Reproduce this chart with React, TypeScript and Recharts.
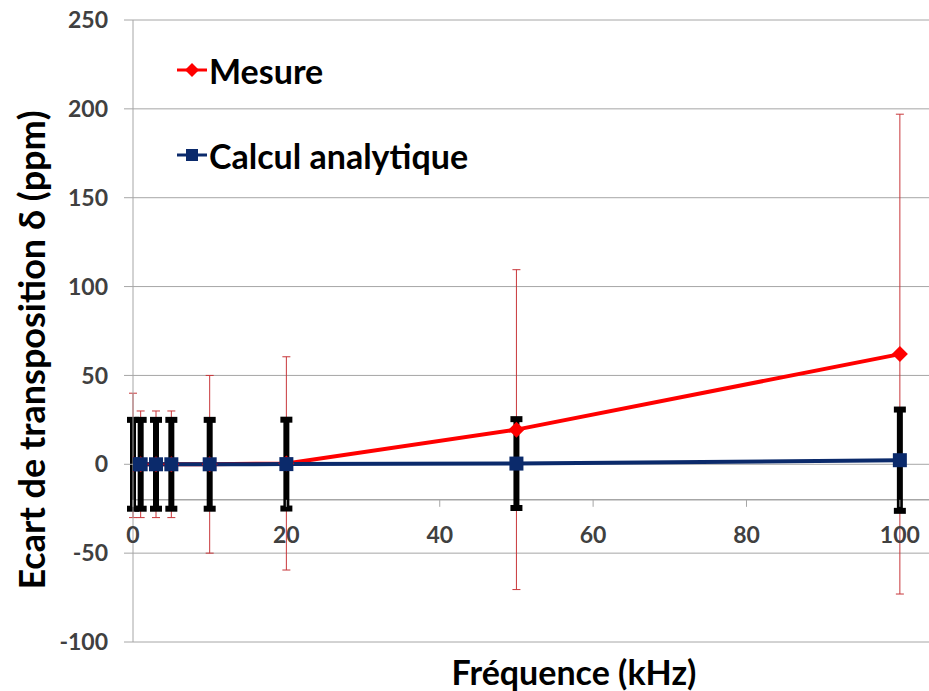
import { ComposedChart, Line, XAxis, YAxis, CartesianGrid, ErrorBar, ReferenceLine, Label } from "recharts";

const frequencies = [0, 1, 3, 5, 10, 20, 50, 100];
const mesureValues = [0, 0, 0, 0, 0, 0.5, 19.5, 62];
const mesureErrLow = [30, 30, 30, 30, 50, 60, 90, 135];
const mesureErrHigh = [40, 30, 30, 30, 50, 60, 90, 135];
const calculValues = [0, 0, 0, 0, 0, 0.1, 0.4, 2.3];
const calculErr = [25, 25, 25, 25, 25, 25, 25, 28.5];

const xTicks = [0, 20, 40, 60, 80, 100];
const yTicks = [-100, -50, 0, 50, 100, 150, 200, 250];
const Y_MIN = -100;
const Y_MAX = 250;
const X_CROSS = -20; // horizontal axis crosses here

const W = 929;
const H = 691;
const TOP = 20;
const X_AXIS_H = 49;
const PLOT_H = H - TOP - X_AXIS_H;
const FONT = "Lato, 'Open Sans', sans-serif";
const GRID = "#a6a6a6";
const TEXT = "#404040";
const RED = "#ff0000";
const NAVY = "#0b2a6b";

const data = frequencies.map((f, i) => ({
  f,
  mesure: mesureValues[i],
  mesureErr: [mesureErrLow[i], mesureErrHigh[i]],
  calcul: calculValues[i],
  calculErr: calculErr[i],
}));

const crossOffset = ((X_CROSS - Y_MIN) / (Y_MAX - Y_MIN)) * PLOT_H;

function XTick(props: any) {
  const { x, y, payload } = props;
  const axisY = y - crossOffset;
  return (
    <g>
      <line x1={x} x2={x} y1={axisY} y2={axisY + 7} stroke={GRID} />
      <text x={x} y={axisY + 34} textAnchor="middle" dominantBaseline="central" fill={TEXT} fontSize={23} fontWeight={700} fontFamily={FONT}>
        {payload.value}
      </text>
    </g>
  );
}

function XTitle(props: any) {
  const vb = props.viewBox;
  return (
    <text x={vb.x + vb.width / 2 + 43} y={vb.y + 29} textAnchor="middle" dominantBaseline="central" fill="#000" fontSize={34} fontWeight={700} fontFamily={FONT}>
      Fréquence (kHz)
    </text>
  );
}

function YTitle(props: any) {
  const vb = props.viewBox;
  const cx = vb.x + 31;
  const cy = vb.y + vb.height / 2 + 19;
  return (
    <text x={cx} y={cy} transform={`rotate(-90 ${cx} ${cy})`} textAnchor="middle" dominantBaseline="central" fill="#000" fontSize={36} fontWeight={700} fontFamily={FONT}>
      Ecart de transposition δ (ppm)
    </text>
  );
}

const Diamond = (props: any) => {
  const { cx, cy } = props;
  if (cx == null || cy == null) return null;
  const r = 8;
  return <polygon points={`${cx},${cy - r} ${cx + r},${cy} ${cx},${cy + r} ${cx - r},${cy}`} fill={RED} />;
};

const Square = (props: any) => {
  const { cx, cy } = props;
  if (cx == null || cy == null) return null;
  return <rect x={cx - 7} y={cy - 7} width={14} height={14} fill={NAVY} />;
};

function LegendItem({ label, color, marker, top }: { label: string; color: string; marker: "diamond" | "square"; top: number }) {
  return (
    <div style={{ position: "absolute", left: 176, top, height: 40, display: "flex", alignItems: "center" }}>
      <svg width={32} height={16}>
        <line x1={1} x2={31} y1={8} y2={8} stroke={color} strokeWidth={3} />
        {marker === "diamond" ? (
          <polygon points="16,1 23,8 16,15 9,8" fill={color} />
        ) : (
          <rect x={10} y={2} width={12} height={12} fill={color} />
        )}
      </svg>
      <span style={{ fontFamily: FONT, fontWeight: 700, fontSize: 34, color: "#000", marginLeft: 1 }}>{label}</span>
    </div>
  );
}

export default function App() {
  return (
    <div style={{ position: "absolute", left: 0, top: 0, width: W, height: H, background: "#fff" }}>
      <ComposedChart width={W} height={H} data={data} margin={{ top: TOP, right: 0, bottom: 0, left: 0 }}>
        <CartesianGrid vertical={false} stroke={GRID} />
        <XAxis
          type="number"
          dataKey="f"
          domain={[0, 103.8]}
          ticks={xTicks}
          interval={0}
          allowDataOverflow
          height={X_AXIS_H}
          axisLine={false}
          tickLine={false}
          tickSize={0}
          tickMargin={0}
          tick={<XTick />}
        >
          <Label content={XTitle} />
        </XAxis>
        <YAxis
          type="number"
          domain={[Y_MIN, Y_MAX]}
          ticks={yTicks}
          interval={0}
          width={133}
          axisLine={{ stroke: GRID }}
          tickLine={{ stroke: GRID }}
          tickSize={9}
          tickMargin={16}
          tick={{ fill: TEXT, fontSize: 23, fontWeight: 700, fontFamily: FONT }}
        >
          <Label content={YTitle} />
        </YAxis>
        <ReferenceLine y={X_CROSS} stroke={GRID} strokeWidth={1.5} />
        <Line dataKey="mesure" stroke="none" dot={false} activeDot={false} isAnimationActive={false} legendType="none">
          <ErrorBar dataKey="mesureErr" direction="y" width={4} strokeWidth={1} stroke="#c8373a" />
        </Line>
        <Line dataKey="calcul" stroke="none" dot={false} activeDot={false} isAnimationActive={false} legendType="none">
          <ErrorBar dataKey="calculErr" direction="y" width={6} strokeWidth={6} stroke="#000" />
        </Line>
        <Line dataKey="mesure" stroke={RED} strokeWidth={4} dot={<Diamond />} activeDot={false} isAnimationActive={false} />
        <Line dataKey="calcul" stroke={NAVY} strokeWidth={4} dot={<Square />} activeDot={false} isAnimationActive={false} />
      </ComposedChart>
      <LegendItem label="Mesure" color={RED} marker="diamond" top={50} />
      <LegendItem label="Calcul analytique" color={NAVY} marker="square" top={135} />
    </div>
  );
}
